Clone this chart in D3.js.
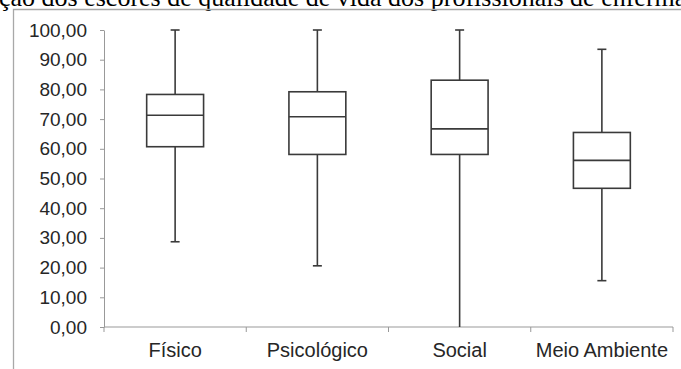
<!DOCTYPE html>
<html>
<head>
<meta charset="utf-8">
<script src="https://cdn.jsdelivr.net/npm/d3@7"></script>
<style>
  html, body { margin: 0; padding: 0; background: #fff; }
  svg { display: block; }
</style>
</head>
<body>
<svg id="chart" width="681" height="369"></svg>
<script>
// values
const categories = ['Físico', 'Psicológico', 'Social', 'Meio Ambiente'];
const minimum = [28.7, 20.6, 0.0, 15.6];
const q1 = [60.7, 58.1, 58.1, 46.7];
const median = [71.3, 70.8, 66.7, 56.1];
const q3 = [78.3, 79.2, 83.1, 65.5];
const maximum = [100.0, 100.0, 100.0, 93.5];
const yTicks = [0, 10, 20, 30, 40, 50, 60, 70, 80, 90, 100];
const title = 'ção dos escores de qualidade de vida dos profissionais de enfermagem';

const svg = d3.select('#chart');
const ptBR = d3.formatLocale({decimal: ',', thousands: '.', grouping: [3], currency: ['R$', '']});
const fmt = ptBR.format('.2f');

const boxes = categories.map((c, i) => ({
  name: c, min: minimum[i], q1: q1[i], med: median[i], q3: q3[i], max: maximum[i]
}));

const x = d3.scaleBand().domain(categories).range([104, 673]);
const y = d3.scaleLinear().domain([0, 100]).range([327, 30]);

// caption of the pasted picture, cut off at the top edge as in the source
svg.append('text')
  .attr('x', -1)
  .attr('y', 6)
  .attr('font-family', '"Liberation Serif", "Times New Roman", serif')
  .attr('font-size', 26)
  .attr('fill', '#000')
  .text(title);

svg.append('path')
  .attr('d', 'M13.5,369V9.5H681')
  .attr('fill', 'none')
  .attr('stroke', '#a8a8a8')
  .attr('stroke-width', 1.3);

// y axis
const yAxis = svg.append('g')
  .attr('transform', `translate(${x.range()[0]},0)`)
  .call(d3.axisLeft(y).tickValues(yTicks).tickFormat(fmt).tickSize(4).tickSizeOuter(0));
yAxis.select('.domain').attr('stroke', '#999');
yAxis.selectAll('.tick line').attr('stroke', '#999');
yAxis.selectAll('.tick text')
  .attr('x', -17)
  .attr('font-family', '"Liberation Sans", Arial, sans-serif')
  .attr('font-size', 19)
  .attr('fill', '#262626');

// x axis: line + ticks at band boundaries, labels at band centres
const xAxis = svg.append('g');
const bounds = categories.map(c => x(c)).concat([x.range()[1]]);
xAxis.append('line')
  .attr('x1', x.range()[0]).attr('x2', x.range()[1])
  .attr('y1', y(0)).attr('y2', y(0))
  .attr('stroke', '#999');
xAxis.selectAll('.xt')
  .data(bounds)
  .enter().append('line')
  .attr('class', 'xt')
  .attr('x1', d => d).attr('x2', d => d)
  .attr('y1', y(0)).attr('y2', y(0) + 5)
  .attr('stroke', '#999');
xAxis.selectAll('.xl')
  .data(categories)
  .enter().append('text')
  .attr('class', 'xl')
  .attr('x', d => x(d) + x.bandwidth() / 2)
  .attr('y', 357)
  .attr('text-anchor', 'middle')
  .attr('font-family', '"Liberation Sans", Arial, sans-serif')
  .attr('font-size', 20)
  .attr('fill', '#262626')
  .text(d => d);

// boxes
const boxW = x.bandwidth() * 0.4;
const capW = 9;
const g = svg.append('g')
  .selectAll('.box')
  .data(boxes)
  .enter().append('g')
  .attr('class', 'box')
  .attr('transform', d => `translate(${x(d.name) + x.bandwidth() / 2},0)`)
  .attr('stroke', '#3a3a3a')
  .attr('stroke-width', 1.6)
  .attr('fill', 'none');

g.append('line')
  .attr('x1', 0).attr('x2', 0)
  .attr('y1', d => y(d.max)).attr('y2', d => y(d.q3));
g.append('line')
  .attr('x1', 0).attr('x2', 0)
  .attr('y1', d => y(d.q1)).attr('y2', d => y(d.min));
g.append('line')
  .attr('x1', -capW / 2).attr('x2', capW / 2)
  .attr('y1', d => y(d.max)).attr('y2', d => y(d.max));
g.filter(d => d.min > 0).append('line')
  .attr('x1', -capW / 2).attr('x2', capW / 2)
  .attr('y1', d => y(d.min)).attr('y2', d => y(d.min));
g.append('rect')
  .attr('x', -boxW / 2)
  .attr('width', boxW)
  .attr('y', d => y(d.q3))
  .attr('height', d => y(d.q1) - y(d.q3))
  .attr('fill', '#fff');
g.append('line')
  .attr('x1', -boxW / 2).attr('x2', boxW / 2)
  .attr('y1', d => y(d.med)).attr('y2', d => y(d.med));
</script>
</body>
</html>
